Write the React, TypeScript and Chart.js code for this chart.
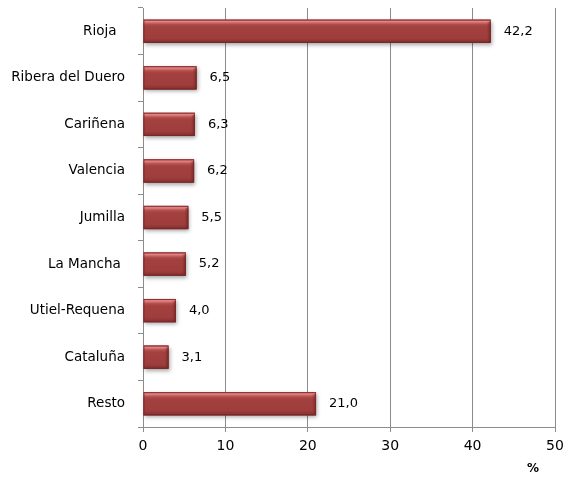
import React, { useEffect, useRef } from "react";
import { Chart, registerables } from "chart.js";

Chart.register(...registerables);

const categories = [
  "Rioja  ",
  "Ribera del Duero",
  "Cariñena",
  "Valencia",
  "Jumilla",
  "La Mancha ",
  "Utiel-Requena",
  "Cataluña",
  "Resto",
];
const values = [42.2, 6.5, 6.3, 6.2, 5.5, 5.2, 4.0, 3.1, 21.0];
const xTicks = [0, 10, 20, 30, 40, 50];
const axisUnit = "%";

const FONT = "'DejaVu Sans', sans-serif";

const barStyle = {
  id: "barStyle",
  beforeDatasetsDraw(chart: any) {
    const ctx = chart.ctx;
    const meta = chart.getDatasetMeta(0);
    ctx.save();
    meta.data.forEach((el: any) => {
      const p = el.getProps(["x", "y", "base", "height"], true);
      const left = Math.min(p.base, p.x);
      const w = Math.abs(p.x - p.base);
      const top = p.y - p.height / 2;
      ctx.shadowColor = "rgba(0,0,0,0.35)";
      ctx.shadowBlur = 4;
      ctx.shadowOffsetX = 1;
      ctx.shadowOffsetY = 2;
      ctx.fillStyle = "#8c3434";
      ctx.fillRect(left, top, w, p.height);
    });
    ctx.restore();
  },
  afterDatasetsDraw(chart: any) {
    const ctx = chart.ctx;
    const meta = chart.getDatasetMeta(0);
    ctx.save();
    meta.data.forEach((el: any) => {
      const p = el.getProps(["x", "y", "base", "height"], true);
      const left = Math.min(p.base, p.x);
      const w = Math.abs(p.x - p.base);
      const top = p.y - p.height / 2;
      const h = p.height;
      const g = ctx.createLinearGradient(0, top, 0, top + h);
      g.addColorStop(0, "#c25a5a");
      g.addColorStop(0.08, "#e48585");
      g.addColorStop(0.2, "#b24d4c");
      g.addColorStop(0.3, "#a3413f");
      g.addColorStop(0.8, "#9e3d3c");
      g.addColorStop(0.92, "#8d3434");
      g.addColorStop(1, "#722828");
      ctx.fillStyle = g;
      ctx.fillRect(left, top, w, h);
      const rg = ctx.createLinearGradient(left + w - 4, 0, left + w, 0);
      rg.addColorStop(0, "rgba(110,35,35,0)");
      rg.addColorStop(1, "rgba(110,35,35,0.7)");
      ctx.fillStyle = rg;
      ctx.fillRect(left + w - 4, top + 2, 4, h - 3);
      ctx.strokeStyle = "rgba(120,40,40,0.8)";
      ctx.lineWidth = 1;
      ctx.strokeRect(left + 0.5, top + 0.5, w - 1, h - 1);
    });
    ctx.fillStyle = "#000";
    ctx.font = `13px ${FONT}`;
    ctx.textAlign = "left";
    ctx.textBaseline = "middle";
    meta.data.forEach((el: any, i: number) => {
      const p = el.getProps(["x", "y"], true);
      ctx.fillText(values[i].toFixed(1).replace(".", ","), p.x + 13, p.y);
    });
    const xs = chart.scales.x;
    ctx.font = `bold 12px ${FONT}`;
    ctx.textAlign = "center";
    ctx.fillText(axisUnit, xs.right - 22, 469);
    ctx.restore();
  },
};

export default function App() {
  const ref = useRef<HTMLCanvasElement>(null);
  useEffect(() => {
    const chart = new Chart(ref.current!, {
      type: "bar",
      data: {
        labels: categories,
        datasets: [
          {
            data: values,
            backgroundColor: "rgba(0,0,0,0)",
            borderWidth: 0,
            barPercentage: 0.5,
            categoryPercentage: 1,
          },
        ],
      },
      options: {
        indexAxis: "y",
        animation: false,
        responsive: false,
        layout: { padding: { top: 8, right: 10, left: 0, bottom: 0 } },
        plugins: {
          legend: { display: false },
          tooltip: { enabled: false },
        },
        scales: {
          x: {
            min: 0,
            max: 50,
            afterBuildTicks: (s: any) => {
              s.ticks = xTicks.map((v) => ({ value: v }));
            },
            afterFit: (s: any) => {
              s.height = 50;
              s.paddingLeft = 0;
              s.paddingRight = 0;
            },
            grid: {
              color: "#8c8c8c",
              lineWidth: 1,
              tickLength: 5,
              drawTicks: true,
            },
            border: { color: "#8c8c8c" },
            ticks: {
              color: "#000",
              font: { family: FONT, size: 14 },
              padding: 6,
              maxRotation: 0,
            },
          },
          y: {
            afterFit: (s: any) => {
              s.width = 143;
              s.paddingTop = 0;
              s.paddingBottom = 0;
            },
            grid: {
              drawOnChartArea: false,
              color: "#8c8c8c",
              tickLength: 5,
              offset: true,
            },
            border: { color: "#8c8c8c" },
            ticks: {
              color: "#000",
              font: { family: FONT, size: 13.5 },
              padding: 13,
              autoSkip: false,
            },
          },
        },
      },
      plugins: [barStyle],
    });
    return () => chart.destroy();
  }, []);
  return (
    <div style={{ position: "fixed", left: 0, top: 0, width: 565, height: 477, background: "#fff" }}>
      <canvas ref={ref} width={565} height={477} style={{ width: 565, height: 477 }} />
    </div>
  );
}
